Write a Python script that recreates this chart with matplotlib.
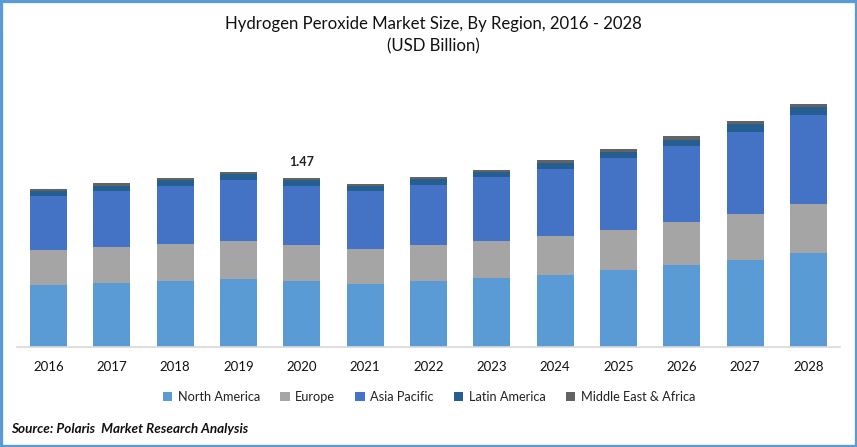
import matplotlib
matplotlib.use('Agg')
import matplotlib.pyplot as plt
from matplotlib.patches import Rectangle

years = ['2016','2017','2018','2019','2020','2021','2022','2023','2024','2025','2026','2027','2028']
north_america = [.54,.557,.574,.591,.574,.548,.574,.60,.626,.67,.713,.757,.817]
europe = [.304,.313,.322,.33,.313,.304,.313,.322,.339,.348,.374,.40,.426]
asia_pacific = [.47,.487,.504,.53,.513,.504,.522,.557,.583,.626,.661,.713,.774]
latin_america = [.043,.043,.052,.052,.052,.043,.052,.043,.052,.052,.052,.07,.07]
mea = [.017,.026,.017,.017,.018,.017,.017,.017,.026,.026,.035,.026,.026]
series = [('North America', north_america, '#5B9BD5'), ('Europe', europe, '#A5A5A5'),
          ('Asia Pacific', asia_pacific, '#4472C4'), ('Latin America', latin_america, '#255E91'),
          ('Middle East & Africa', mea, '#636363')]

plt.rcParams['font.family'] = ['Lato', 'DejaVu Sans']
W, H = 857, 447
fig = plt.figure(figsize=(W/100, H/100), dpi=100, facecolor='white')
ax = fig.add_axes([17/W, 1-347/H, (840-17)/W, (347-60)/H])
bottom = [0]*len(years)
x = list(range(len(years)))
handles = []
for name, vals, col in series:
    b = ax.bar(x, vals, 0.585, bottom=bottom, color=col, label=name, linewidth=0)
    handles.append(b)
    bottom = [p+v for p, v in zip(bottom, vals)]
ax.set_xlim(-0.4976, 12.5)
ax.set_ylim(0, 287/115)
ax.set_xticks(x, years, fontsize=9.5, color='#111111')
ax.set_yticks([])
ax.tick_params(axis='x', length=0, pad=10)
for s in ['top', 'left', 'right']:
    ax.spines[s].set_visible(False)
ax.spines['bottom'].set_color('#D9D9D9')
ax.spines['bottom'].set_linewidth(1.2)
ax.text(4, bottom[4]+0.09, '1.47', ha='center', va='bottom', fontsize=9, fontweight='bold', color='#222222')

fig.text(433/W, 1-24/H, 'Hydrogen Peroxide Market Size, By Region, 2016 - 2028', ha='center', va='center', fontsize=12.1, color='#111111')
fig.text(433/W, 1-46/H, '(USD Billion)', ha='center', va='center', fontsize=12.1, color='#111111')
fig.legend(handles=handles, loc='center', bbox_to_anchor=(429/W, 1-397/H), ncol=5, frameon=False,
           fontsize=9.2, handlelength=0.75, handleheight=0.75, handletextpad=0.45, columnspacing=1.55, labelcolor='#222222')
fig.text(11/W, 1-429/H, 'Source: Polaris  Market Research Analysis', ha='left', va='center', fontsize=9.7,
         fontweight='bold', fontstyle='italic', color='#111111')
fig.add_artist(Rectangle((0, 0), 1, 1, transform=fig.transFigure, fill=False, edgecolor='#5B9BD5', linewidth=3.8))
fig.savefig('out.png', dpi=100)
